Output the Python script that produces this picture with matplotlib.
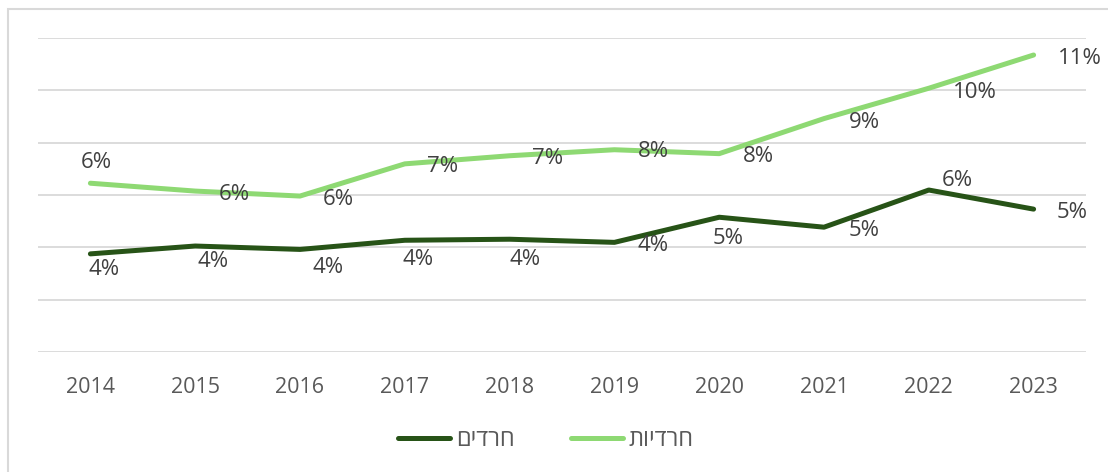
import matplotlib
matplotlib.use("Agg")
import matplotlib.pyplot as plt
from matplotlib.patches import Rectangle

plt.rcParams['font.family'] = ['Open Sans', 'DejaVu Sans']

# data
years = [2014, 2015, 2016, 2017, 2018, 2019, 2020, 2021, 2022, 2023]
haredim = [3.75, 4.05, 3.92, 4.27, 4.31, 4.19, 5.15, 4.77, 6.19, 5.46]      # חרדים
harediot = [6.45, 6.15, 5.96, 7.19, 7.5, 7.73, 7.58, 8.92, 10.08, 11.35]    # חרדיות
haredim_labels = ['4%', '4%', '4%', '4%', '4%', '4%', '5%', '5%', '6%', '5%']
harediot_labels = ['6%', '6%', '6%', '7%', '7%', '8%', '8%', '9%', '10%', '11%']
series_names = ['חרדים', 'חרדיות']

# label offsets in pixels (dx right, dy down)
dark_off = [(14, 16), (18, 15), (28, 18), (13, 19), (15, 20), (39, 3), (9, 21), (40, 3), (29, -10), (39, 3)]
light_off = [(6, -21), (39, 3), (38, 3), (38, 3), (38, 3), (39, 2), (39, 3), (40, 4), (46, 4), (46, 3)]

dark_color = '#275317'
light_color = '#8ED973'
grid_color = '#D9D9D9'
text_color = '#404040'

W, H = 1108, 472
fig = plt.figure(figsize=(W / 100, H / 100), dpi=100)
ax = fig.add_axes([38 / W, 1 - 352 / H, (1086 - 38) / W, (352 - 38) / H])

x = list(range(len(years)))
l1, = ax.plot(x, haredim, color=dark_color, lw=3.6, solid_capstyle='round', solid_joinstyle='round', zorder=3)
l2, = ax.plot(x, harediot, color=light_color, lw=3.6, solid_capstyle='round', solid_joinstyle='round', zorder=3)

for i in x:
    ax.annotate(haredim_labels[i], (i, haredim[i]), xytext=(dark_off[i][0], -dark_off[i][1]),
                textcoords='offset pixels', ha='center', va='center', fontsize=16, color=text_color)
    ax.annotate(harediot_labels[i], (i, harediot[i]), xytext=(light_off[i][0], -light_off[i][1]),
                textcoords='offset pixels', ha='center', va='center', fontsize=16, color=text_color)

ax.set_xlim(-0.5, len(years) - 0.5)
ax.set_ylim(0, 12)
ax.set_yticks(range(0, 13, 2))
ax.yaxis.grid(True, color=grid_color, lw=1.3)
ax.set_axisbelow(True)
ax.tick_params(axis='y', left=False, labelleft=False)
ax.set_xticks(x)
ax.set_xticklabels([str(y) for y in years], fontsize=15.5, color='#595959')
ax.tick_params(axis='x', length=0, pad=18)
for s in ax.spines.values():
    s.set_visible(False)

# Hebrew reversed for left-to-right rendering
fig.legend([l1, l2], [n[::-1] for n in series_names], loc='center', ncol=2,
           bbox_to_anchor=(546 / W, 1 - 440 / H), frameon=False, fontsize=17,
           handlelength=2.2, handletextpad=0.25, columnspacing=2.4, labelcolor='#595959')

fig.patches.append(Rectangle((8 / W, -0.1), 2, (H - 9) / H + 0.1, transform=fig.transFigure,
                             fill=False, edgecolor=grid_color, lw=1.5))

fig.savefig('out.png', dpi=100, facecolor='white')
